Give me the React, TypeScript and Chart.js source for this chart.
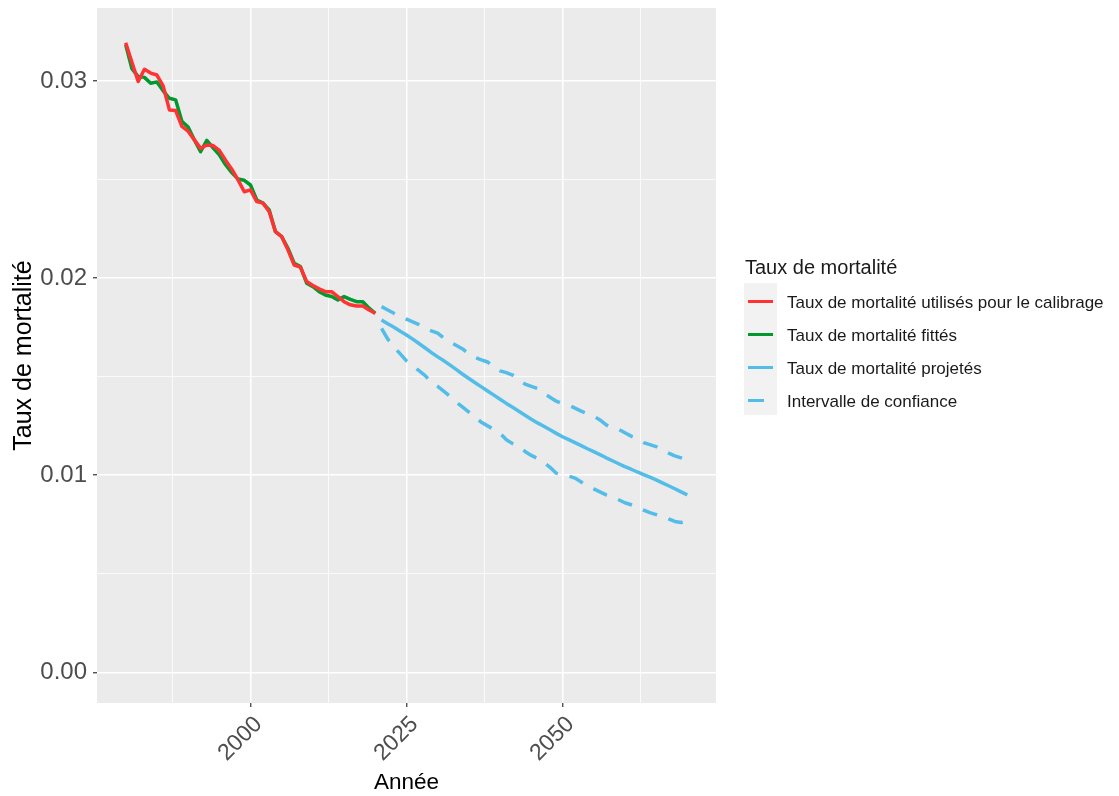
import React, { useEffect, useRef } from "react";
import { Chart, registerables } from "chart.js";

Chart.register(...registerables);

// ---------- data ----------
const calibYears = Array.from({ length: 41 }, (_, i) => 1980 + i); // 1980..2020
const projYears = Array.from({ length: 50 }, (_, i) => 2021 + i); // 2021..2070

const observedRates = [
  0.03194, 0.03095, 0.02997, 0.03059, 0.0304, 0.0303, 0.02975, 0.02853, 0.0285, 0.0277,
  0.02745, 0.02701, 0.02658, 0.02675, 0.02672, 0.02648, 0.02598, 0.02552, 0.02498, 0.02438,
  0.02447, 0.02388, 0.0238, 0.02337, 0.02235, 0.0221, 0.02143, 0.02066, 0.02055, 0.01982,
  0.01962, 0.01945, 0.01931, 0.01931, 0.01906, 0.0188, 0.01864, 0.01858, 0.01858, 0.01838,
  0.01821,
];

const fittedRates = [
  0.03183, 0.03062, 0.03022, 0.03018, 0.02988, 0.02995, 0.0295, 0.02912, 0.02904, 0.02795,
  0.02766, 0.02701, 0.02641, 0.02698, 0.0266, 0.02625, 0.02575, 0.02535, 0.02502, 0.02496,
  0.02472, 0.02396, 0.0238, 0.02345, 0.02235, 0.0221, 0.02151, 0.02075, 0.02058, 0.01974,
  0.01956, 0.01931, 0.01914, 0.01906, 0.01889, 0.01906, 0.01892, 0.0188, 0.0188, 0.01847,
  0.01821,
];

const projectedRates = [
  0.01787, 0.01768, 0.0175, 0.0173, 0.01711, 0.0169, 0.01668, 0.01645, 0.01622, 0.016,
  0.0158, 0.01558, 0.01535, 0.01512, 0.0149, 0.01469, 0.01448, 0.01427, 0.01406, 0.01385,
  0.01364, 0.01344, 0.01324, 0.01304, 0.01284, 0.01265, 0.01248, 0.0123, 0.01212, 0.01195,
  0.0118, 0.01165, 0.0115, 0.01134, 0.01119, 0.01104, 0.01088, 0.01073, 0.01058, 0.01043,
  0.0103, 0.01016, 0.01003, 0.0099, 0.00976, 0.00961, 0.00946, 0.00931, 0.00915, 0.009,
];

const upperCI = [
  0.01855, 0.01838, 0.01821, 0.01805, 0.01791, 0.01778, 0.01764, 0.01745, 0.01732, 0.0172,
  0.01695, 0.01675, 0.01658, 0.0164, 0.01615, 0.01597, 0.01585, 0.01574, 0.0155, 0.01529,
  0.0152, 0.01508, 0.01485, 0.01462, 0.0145, 0.0144, 0.01415, 0.01395, 0.01375, 0.01362,
  0.01355, 0.0134, 0.01325, 0.0131, 0.013, 0.0128, 0.01255, 0.0124, 0.01232, 0.01215,
  0.01198, 0.01185, 0.01165, 0.01155, 0.01145, 0.01128, 0.01112, 0.01098, 0.01088, 0.01077,
];

const lowerCI = [
  0.01745, 0.0169, 0.0165, 0.01615, 0.0158, 0.01555, 0.0153, 0.01505, 0.0147, 0.0145,
  0.01425, 0.014, 0.0137, 0.01345, 0.0132, 0.01295, 0.01268, 0.0125, 0.01232, 0.01212,
  0.0118, 0.0116, 0.01145, 0.0112, 0.011, 0.01085, 0.01065, 0.0104, 0.0101, 0.01,
  0.00995, 0.00985, 0.00965, 0.00945, 0.0093, 0.00915, 0.009, 0.0089, 0.00875, 0.0086,
  0.0085, 0.00838, 0.00822, 0.0081, 0.008, 0.00792, 0.00778, 0.00765, 0.0076, 0.00768,
];

const xMajorTicks = [2000, 2025, 2050];
const xMinorTicks = [1987.5, 2012.5, 2037.5, 2062.5];
const yMajorTicks = [0, 0.01, 0.02, 0.03];
const yMinorTicks = [0.005, 0.015, 0.025];
const yTickLabels = ["0.00", "0.01", "0.02", "0.03"];

const legendTitle = "Taux de mortalité";
const seriesLabels = [
  "Taux de mortalité utilisés pour le calibrage",
  "Taux de mortalité fittés",
  "Taux de mortalité projetés",
  "Intervalle de confiance",
];

const RED = "#FF3333";
const GREEN = "#00992E";
const BLUE = "#52BDE8";
const FONT = "'Liberation Sans', Arial, sans-serif";

const toPoints = (xs: number[], ys: number[]) => xs.map((x, i) => ({ x, y: ys[i] }));

const isMajor = (list: number[], v: number) => list.some((m) => Math.abs(m - v) < 1e-9);

const panelBg = {
  id: "panelBg",
  beforeDraw(chart: any) {
    const { ctx, chartArea } = chart;
    if (!chartArea) return;
    ctx.save();
    ctx.fillStyle = "#EBEBEB";
    ctx.fillRect(chartArea.left, chartArea.top, chartArea.right - chartArea.left, chartArea.bottom - chartArea.top);
    ctx.restore();
  },
};

function App() {
  const ref = useRef<HTMLCanvasElement | null>(null);

  useEffect(() => {
    if (!ref.current) return;
    const lineBase = {
      pointRadius: 0,
      borderWidth: 3.5,
      tension: 0,
      fill: false,
      borderCapStyle: "butt" as const,
      borderJoinStyle: "round" as const,
    };
    const chart = new Chart(ref.current, {
      type: "line",
      data: {
        datasets: [
          { ...lineBase, label: seriesLabels[0], data: toPoints(calibYears, observedRates), borderColor: RED },
          { ...lineBase, label: seriesLabels[1], data: toPoints(calibYears, fittedRates), borderColor: GREEN },
          { ...lineBase, label: seriesLabels[2], data: toPoints(projYears, projectedRates), borderColor: BLUE },
          { ...lineBase, label: seriesLabels[3], data: toPoints(projYears, upperCI), borderColor: BLUE, borderDash: [15, 12] },
          { ...lineBase, label: seriesLabels[3] + " (bas)", data: toPoints(projYears, lowerCI), borderColor: BLUE, borderDash: [15, 12] },
        ],
      },
      options: {
        responsive: false,
        animation: false,
        layout: { padding: { left: 0, right: 403, top: 8, bottom: 0 } },
        plugins: {
          legend: { display: false },
          tooltip: { enabled: false },
        },
        scales: {
          x: {
            type: "linear",
            min: 1975.4,
            max: 2074.6,
            border: { display: false },
            afterBuildTicks: (axis: any) => {
              axis.ticks = [...xMinorTicks, ...xMajorTicks].sort((a, b) => a - b).map((v) => ({ value: v }));
            },
            afterFit: (axis: any) => {
              axis.height = 93;
              axis.paddingLeft = 0;
              axis.paddingRight = 0;
            },
            grid: {
              color: "#FFFFFF",
              lineWidth: (c: any) => (c.tick && isMajor(xMajorTicks, c.tick.value) ? 1.5 : 0.75),
              tickColor: (c: any) => (c.tick && isMajor(xMajorTicks, c.tick.value) ? "#333333" : "rgba(0,0,0,0)"),
              tickLength: 4,
              tickWidth: 1.2,
            },
            ticks: {
              autoSkip: false,
              minRotation: 45,
              maxRotation: 45,
              padding: 4,
              labelOffset: 8,
              color: "#4D4D4D",
              font: { family: FONT, size: 23 },
              callback: (v: any) => (isMajor(xMajorTicks, Number(v)) ? String(v) : ""),
            },
            title: {
              display: true,
              text: "Année",
              color: "#000000",
              font: { family: FONT, size: 22.5 },
              padding: { top: 0, bottom: 0 },
            },
          },
          y: {
            type: "linear",
            min: -0.00156,
            max: 0.0337,
            border: { display: false },
            afterBuildTicks: (axis: any) => {
              axis.ticks = [...yMinorTicks, ...yMajorTicks].sort((a, b) => a - b).map((v) => ({ value: v }));
            },
            afterFit: (axis: any) => {
              axis.width = 97;
              axis.paddingTop = 0;
              axis.paddingBottom = 0;
            },
            grid: {
              color: "#FFFFFF",
              lineWidth: (c: any) => (c.tick && isMajor(yMajorTicks, c.tick.value) ? 1.5 : 0.75),
              tickColor: (c: any) => (c.tick && isMajor(yMajorTicks, c.tick.value) ? "#333333" : "rgba(0,0,0,0)"),
              tickLength: 4,
              tickWidth: 1.2,
            },
            ticks: {
              autoSkip: false,
              padding: 6,
              color: "#4D4D4D",
              font: { family: FONT, size: 24 },
              callback: (v: any) => {
                const idx = yMajorTicks.findIndex((m) => Math.abs(m - Number(v)) < 1e-9);
                return idx >= 0 ? yTickLabels[idx] : "";
              },
            },
            title: {
              display: true,
              text: "Taux de mortalité",
              color: "#000000",
              font: { family: FONT, size: 25 },
              padding: { top: 9, bottom: 0 },
            },
          },
        },
      },
      plugins: [panelBg],
    } as any);
    return () => chart.destroy();
  }, []);

  const keyColors = [RED, GREEN, BLUE, BLUE];

  return (
    <div style={{ position: "absolute", left: 0, top: 0, width: 1119, height: 796, background: "#FFFFFF", fontFamily: FONT }}>
      <canvas ref={ref} width={1119} height={796} style={{ display: "block" }} />
      <div
        style={{
          position: "absolute",
          left: 745,
          top: 255,
          fontSize: 20,
          color: "#1A1A1A",
          lineHeight: "24px",
          whiteSpace: "nowrap",
        }}
      >
        {legendTitle}
      </div>
      <div style={{ position: "absolute", left: 744, top: 283, width: 33, height: 132, background: "#F2F2F2" }} />
      {seriesLabels.map((lab, i) => (
        <React.Fragment key={lab}>
          <div
            style={{
              position: "absolute",
              left: 748,
              top: 299.5 + i * 33,
              width: i === 3 ? 16 : 25,
              height: 3.5,
              background: keyColors[i],
            }}
          />
          <div
            style={{
              position: "absolute",
              left: 787,
              top: 289 + i * 33,
              height: 28,
              lineHeight: "28px",
              fontSize: 17,
              color: "#1A1A1A",
              whiteSpace: "nowrap",
            }}
          >
            {lab}
          </div>
        </React.Fragment>
      ))}
    </div>
  );
}

export default App;
